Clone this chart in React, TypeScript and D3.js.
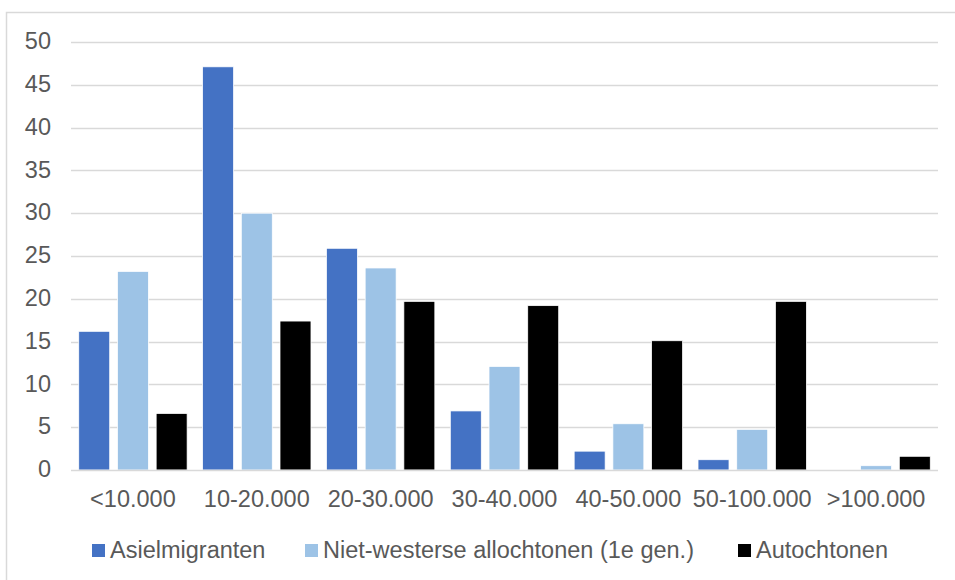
import React, { useEffect, useRef } from 'react';
import * as d3 from 'd3';

const categories = ['<10.000', '10-20.000', '20-30.000', '30-40.000', '40-50.000', '50-100.000', '>100.000'];
const seriesNames = ['Asielmigranten', 'Niet-westerse allochtonen (1e gen.)', 'Autochtonen'];
const asielmigranten = [16.2, 47.1, 25.9, 6.9, 2.2, 1.2, 0];
const nietWesters = [23.2, 30.0, 23.6, 12.1, 5.4, 4.75, 0.5];
const autochtonen = [6.6, 17.4, 19.7, 19.2, 15.1, 19.7, 1.6];
const yTicks = [0, 5, 10, 15, 20, 25, 30, 35, 40, 45, 50];
const colors = ['#4472C4', '#9DC3E6', '#000000'];

const width = 955;
const height = 580;

const App: React.FC = () => {
    const svgRef = useRef<SVGSVGElement>(null);

    useEffect(() => {
        if (!svgRef.current) return;
        const svg = d3.select(svgRef.current);
        svg.selectAll('*').remove();

        const font = '"Liberation Sans", Arial, sans-serif';
        const fontSize = '23.5px';
        const series = [asielmigranten, nietWesters, autochtonen];

        // chart frame
        svg.append('rect')
            .attr('x', 6.5).attr('y', 12.5)
            .attr('width', 970).attr('height', 600)
            .attr('fill', 'white')
            .attr('stroke', '#d9d9d9')
            .attr('stroke-width', 1.5);

        const left = 71, right = 938, top = 42, bottom = 470;

        const x = d3.scaleBand<string>()
            .domain(categories)
            .range([left, right]);

        const y = d3.scaleLinear().domain([0, 50]).range([bottom, top]);

        // bar layout: gap width 50%, overlap -25%
        const barW = x.bandwidth() / 4;
        const inner = d3.scaleBand<number>()
            .domain([0, 1, 2])
            .range([barW * 0.25, barW * 0.25 + barW * 3.5])
            .paddingInner(0.25 / 1.25)
            .paddingOuter(0);

        // gridlines
        svg.append('g')
            .selectAll('line')
            .data(yTicks.filter(t => t > 0))
            .enter()
            .append('line')
            .attr('x1', left).attr('x2', right)
            .attr('y1', d => Math.round(y(d)) + 0.5)
            .attr('y2', d => Math.round(y(d)) + 0.5)
            .attr('stroke', '#d9d9d9')
            .attr('stroke-width', 1.3);

        // y labels
        svg.append('g')
            .selectAll('text')
            .data(yTicks)
            .enter()
            .append('text')
            .attr('x', 51)
            .attr('y', d => y(d) - 1)
            .attr('dy', '0.35em')
            .attr('text-anchor', 'end')
            .attr('fill', '#595959')
            .style('font-family', font)
            .style('font-size', fontSize)
            .text(d => d);

        // bars
        series.forEach((vals, si) => {
            svg.append('g')
                .selectAll('rect')
                .data(vals.map((v, i) => ({ v, c: categories[i] })))
                .enter()
                .append('rect')
                .attr('x', d => (x(d.c) || 0) + (inner(si) || 0))
                .attr('y', d => y(d.v))
                .attr('width', inner.bandwidth())
                .attr('height', d => y(0) - y(d.v))
                .attr('fill', colors[si])
                .attr('stroke', d => d.v > 0 ? 'white' : 'none')
                .attr('stroke-width', 0.75);
        });

        // baseline
        svg.append('line')
            .attr('x1', left).attr('x2', right)
            .attr('y1', bottom + 0.5).attr('y2', bottom + 0.5)
            .attr('stroke', '#d9d9d9')
            .attr('stroke-width', 1.5);

        // x labels
        svg.append('g')
            .selectAll('text')
            .data(categories)
            .enter()
            .append('text')
            .attr('x', d => (x(d) || 0) + x.bandwidth() / 2)
            .attr('y', 499)
            .attr('dy', '0.35em')
            .attr('text-anchor', 'middle')
            .attr('fill', '#595959')
            .style('font-family', font)
            .style('font-size', fontSize)
            .text(d => d);

        // legend
        const legendX = [92, 305, 738];
        const legend = svg.append('g');
        seriesNames.forEach((name, i) => {
            legend.append('rect')
                .attr('x', legendX[i]).attr('y', 544)
                .attr('width', 13).attr('height', 13)
                .attr('fill', colors[i]);
            legend.append('text')
                .attr('x', legendX[i] + 18)
                .attr('y', 550)
                .attr('dy', '0.35em')
                .attr('fill', '#595959')
                .style('font-family', font)
                .style('font-size', fontSize)
                .text(name);
        });
    }, []);

    return (
        <div style={{ position: 'absolute', left: 0, top: 0, width, height, overflow: 'hidden' }}>
            <svg ref={svgRef} width={width} height={height}></svg>
        </div>
    );
};

export default App;
